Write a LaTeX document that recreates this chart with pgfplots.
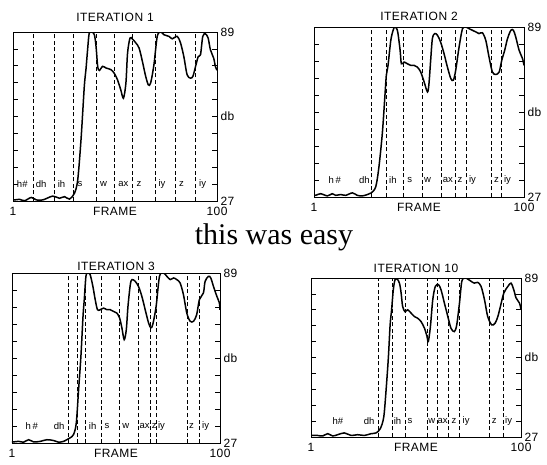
\documentclass[border=0pt]{standalone}
\usepackage{fontspec}
\setmainfont{Liberation Sans}
\newfontfamily\lsf[LetterSpace=4]{Liberation Sans}
\newfontfamily\serif{Liberation Serif}
\usepackage{pgfplots}
\pgfplotsset{compat=1.18}

\pgfplotsset{
  panel/.style={
    scale only axis,
    xmin=1, xmax=100, ymin=27, ymax=89,
    axis line style={line width=0.9pt},
    ytick={27,33.2,39.4,45.6,51.8,58,64.2,70.4,76.6,82.8,89},
    yticklabels={27,,,,,db,,,,,89},
    ytick pos=both, yticklabel pos=right,
    tick align=inside, major tick length=5pt,
    tick style={line width=0.8pt, black},
    xtick={1,50.5,100}, xticklabels={1,FRAME,100},
    x tick style={draw=none},
    ticklabel style={font=\lsf\fontsize{12}{13}\selectfont},
    xticklabel style={yshift=-3pt},
    title style={font=\lsf\fontsize{12}{13}\selectfont},
  },
  curve/.style={black, line width=1.5pt, smooth, tension=0.5},
  bound/.style={black, line width=0.6pt, dash pattern=on 4pt off 2.5pt},
  phon/.style={draw=none, mark=none, nodes near coords, point meta=explicit symbolic,
    nodes near coords style={anchor=west, inner sep=0.5pt, font=\fontsize{9.5}{10}\selectfont}},
}

\begin{document}
\begin{tikzpicture}
\useasboundingbox (0pt,0pt) rectangle (547pt,464pt);

% iteration 1
\begin{axis}[panel, at={(13pt,263pt)}, anchor=south west, width=204pt, height=169pt,
  title={ITERATION 1}, title style={yshift=1pt}]
\pgfplotsinvokeforeach{10.7,21.1,30.3,41.3,50.1,59,69.9,79.9,89.6}{
  \addplot[bound] coordinates {(#1,27) (#1,89)};}
\addplot[phon] coordinates {(2.6,33.2)[h\#] (11.8,33.2)[dh] (22.4,33.2)[ih] (32,33.2)[s]
  (43,33.2)[w] (51.8,33.2)[ax] (60.6,33.2)[z] (71.3,33.2)[iy] (81.3,33.2)[z] (91,33.2)[iy]};
\addplot[curve] coordinates {
(1,27.5)(1.8,27.4)(4.2,27.6)(6.6,27.1)(9.9,28.3)(12.3,27.4)(15.5,27.4)(20.3,28.8)
(23.5,28)(26,28.6)(28.4,27.7)(30.8,29.8)(32.4,34.7)(34,49.4)(35.6,69)(36.4,75.2)
(37.2,82.5)(38,88.6)(39.3,89)(40.5,88)(41.3,83.7)(42.1,76.4)(42.9,74.9)(44.5,76.4)
(46.1,75.8)(48.5,75.2)(50.1,73.9)(51.7,71.5)(53.3,67.8)(54.6,64.7)(55.8,70.3)
(56.6,81.3)(57.8,86.8)(59,86.4)(60.6,85)(62.2,83.1)(63.8,78.2)(65.4,72.7)(66.7,69.6)
(67.8,70.3)(69.4,77)(71,87.4)(72.7,89)(74.3,88)(76.7,87.4)(78.3,86.5)(80.7,87.4)
(82.3,85)(83.9,80)(85.5,73.3)(87.1,72.1)(88.3,72.7)(89.6,76.4)(90.9,80)(92,80.7)
(93.1,87.4)(94.4,88.3)(95.7,86.8)(96.8,82.5)(98.4,79.4)(99.2,76.4)(100,75)};
\end{axis}

% iteration 2
\begin{axis}[panel, at={(314pt,267pt)}, anchor=south west, width=210pt, height=170pt,
  title={ITERATION 2}, title style={yshift=-3.5pt}]
\pgfplotsinvokeforeach{28.1,35,43.1,52,61,67.6,72.8,84.8,89.5}{
  \addplot[bound] coordinates {(#1,27) (#1,89)};}
\addplot[phon] coordinates {(7.6,33.2)[h\,\#] (21.9,33.2)[dh] (36.1,33.2)[ih] (44.7,33.2)[s]
  (52.6,33.2)[w] (61.4,33.2)[ax] (68.4,33.2)[z] (73.8,33.2)[iy] (85.6,33.2)[z] (90.3,33.2)[iy]};
\addplot[curve] coordinates {
(1,27.8)(1.8,27.6)(4.1,28.2)(7.3,27.4)(9.6,28.2)(11.2,27.6)(13.6,27.9)(15.9,27.6)
(19.1,28.5)(21.4,27.6)(23.8,27.4)(26.2,27.9)(28,28.5)(30.1,30.7)(31.6,37.9)(33.2,50.1)
(34.3,62.3)(35.1,71.4)(35.9,75)(37.2,84.1)(38.3,87.8)(39,89)(40,88.4)(40.6,86.6)
(41.6,80.5)(42.2,75.6)(43.5,76.2)(45,75.6)(46.6,75)(48.2,75)(49.7,74.4)(51.3,72.6)
(52.9,69)(54.5,65.3)(55.2,68.3)(56,76.8)(56.8,84.7)(57.9,86.6)(59.2,86)(60.7,83.5)
(62.3,79.3)(63.9,74.4)(65.5,70.2)(66.7,69.6)(67.8,73.2)(69.4,81.7)(71,88.4)(72.5,89)
(74.1,88.4)(75.7,87.8)(77.3,87.2)(78.8,86.6)(80.4,86.9)(82,84.1)(83.5,78.1)(85.1,72.6)
(86.7,71.7)(88.3,72.6)(89.5,76.8)(90.9,80.5)(92.2,84.7)(93.8,87.8)(95,87.8)(96.1,85.4)
(97.7,80.5)(99.3,77.5)(100,75)};
\end{axis}

% iteration 3
\begin{axis}[panel, at={(12pt,21pt)}, anchor=south west, width=208pt, height=170pt,
  title={ITERATION 3}, title style={yshift=-7pt}]
\pgfplotsinvokeforeach{27.8,32,35.8,43.7,52,60.9,67,69.6,84.2,90.2}{
  \addplot[bound] coordinates {(#1,27) (#1,89)};}
\addplot[phon] coordinates {(7.2,33.2)[h\,\#] (20.6,33.2)[dh] (37.3,33.2)[ih] (44.8,33.2)[s]
  (53.2,33.2)[w] (61.4,33.2)[ax] (67.2,33.2)[z] (70.2,33.2)[iy] (85,33.2)[z] (91.2,33.2)[iy]};
\addplot[curve] coordinates {
(1,27.4)(1.8,27.4)(4.2,27.6)(6.5,27.3)(8.9,28.2)(11.3,27.4)(14.5,27.6)(17.6,28.2)
(20.8,27.9)(23.2,27.3)(25.6,27.6)(27.1,28.2)(28.7,28.9)(30.3,30.1)(31.6,34.3)
(32.7,46.5)(33.8,58.6)(34.8,73.2)(35.4,79.3)(36.2,87.8)(37.1,89)(38.2,88.4)(39.5,84.1)
(40.6,79.3)(41.7,75.6)(43,75.6)(44.6,76.2)(46.2,75.6)(47.8,75.6)(49.3,75)(50.9,74.4)
(52.2,72.6)(53.3,69)(54.4,64.7)(55.4,68.3)(56.2,76.8)(57.3,84.7)(58.1,86.6)(59.6,86)
(61.2,84.1)(62.8,80.5)(64.4,75.6)(66,70.8)(67.1,69)(68,70.2)(69.6,76.8)(71.2,87.8)
(73.1,89)(74.7,87.8)(76.3,86.6)(77.9,87.2)(79.4,86.6)(81,85.4)(82.6,81.1)(84.2,74.4)
(85.8,71.4)(87.4,71.4)(88.9,73.8)(90.2,79.3)(92.1,81.7)(92.9,85.9)(94.5,87.8)
(95.6,87.2)(96.9,84.1)(98.5,80.5)(99.7,78.1)(100,75.6)};
\end{axis}

% iteration 10
\begin{axis}[panel, at={(311pt,27pt)}, anchor=south west, width=210pt, height=159pt,
  title={ITERATION 10}, title style={yshift=-4.5pt}]
\pgfplotsinvokeforeach{32.5,39.1,45.5,55.7,60.4,65.8,71.1,85.2,91.7}{
  \addplot[bound] coordinates {(#1,27) (#1,89)};}
\addplot[phon] coordinates {(10.9,33.2)[h\#] (25.6,33.2)[dh] (39.7,33.2)[ih] (46.2,33.2)[s]
  (56,33.2)[w] (60.4,33.2)[ax] (67,33.2)[z] (72.2,33.2)[iy] (85.9,33.2)[z] (92.2,33.2)[iy]};
\addplot[curve] coordinates {
(1,27.6)(1.8,27.6)(4.1,27.6)(6.5,27.4)(8.9,28.3)(11.2,27.4)(13.6,27.9)(16.7,28.6)
(19.9,27.6)(23,27.9)(26.2,27.6)(29.3,28.3)(31.7,28.6)(33.7,30.3)(35.3,34.8)(36.4,45.3)
(37.5,58.3)(38.3,70.7)(39,76.6)(39.8,84.4)(40.6,88.3)(41.6,88.6)(42.7,87)(43.5,83.1)
(44.2,77.9)(45.3,75.9)(46.6,76.6)(48.2,75.3)(49.7,74)(51.3,73.3)(52.9,72)(54.5,69.4)
(55.7,66.2)(56.3,64.2)(57.3,70.1)(58.4,80.5)(59.6,85.7)(61.1,86.4)(62.3,84.4)
(63.9,79.2)(65.5,74)(67,69.4)(68.6,68.1)(69.7,70.7)(71,79.2)(72.1,87.7)(73.6,89)
(74.9,88.6)(76.5,87.7)(78,87)(79.6,87.3)(81.2,85.7)(82.8,80.5)(84.3,74)(86.2,70.7)
(87.8,71.4)(89.1,74)(90.3,77.9)(91.9,83.1)(93.8,85.7)(95.3,87)(96.6,84.4)(97.7,81.2)
(99.3,79.2)(100,76.6)};
\end{axis}

\node[font=\serif\fontsize{30}{34}\selectfont, anchor=base] at (274pt,219pt) {this was easy};
\end{tikzpicture}
\end{document}
